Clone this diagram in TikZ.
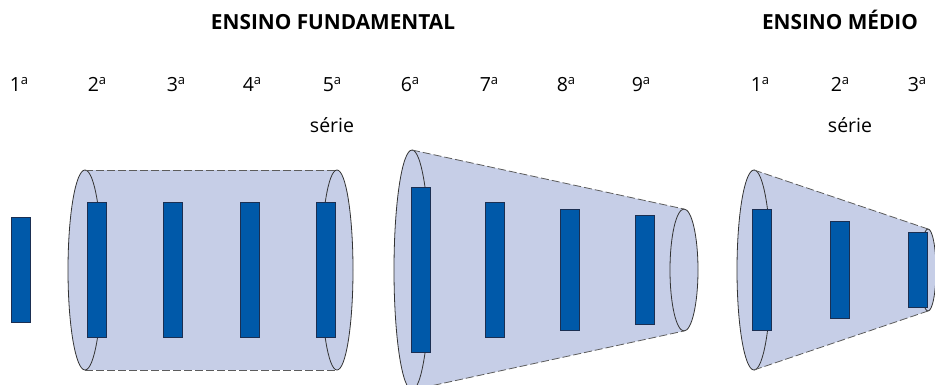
\documentclass[tikz,border=0pt]{standalone}
\usepackage{fontspec}
\setmainfont{Open Sans}
\usepackage{tikz}
\usetikzlibrary{positioning}

\definecolor{tubefill}{HTML}{C6CEE7}
\definecolor{barblue}{HTML}{0059A9}
\definecolor{barline}{HTML}{1B2F52}
\definecolor{rim}{HTML}{333333}

% ordinal mark: small raised a
\newcommand{\ordA}{\raisebox{7pt}{\fontsize{13}{13}\selectfont a}}

\tikzset{
  rimline/.style={draw=rim,line width=0.8pt},
  sideline/.style={draw=rim!80,line width=0.8pt,dash pattern=on 8pt off 3pt},
  bar/.style={draw=barline,fill=barblue,line width=0.7pt,minimum width=19pt,inner sep=0pt},
  grade/.style={anchor=base,font=\fontsize{19.5}{22}\selectfont},
  heading/.style={anchor=base,font=\fontsize{20.8}{24}\selectfont\bfseries}
}

\begin{document}
\begin{tikzpicture}[x=1pt,y=-1pt]
   \useasboundingbox (0,0) rectangle (935,384);

   % headings
   \node[heading] (fund) at (333,29) {ENSINO FUNDAMENTAL};
   \node[heading] (medio) at (840,29) {ENSINO MÉDIO};

   % tubes: left rim (x, ry, rx), right rim (x, ry, rx)
   \foreach \lx/\lry/\lrx/\rx/\rry/\rrx/\t in {85/100/17/337/100/16/a,
                                               412/120/18/684/61/14/b,
                                               754/100/17/928/41/8/c}{
     \coordinate (\t lt) at (\lx,270-\lry);
     \coordinate (\t lb) at (\lx,270+\lry);
     \coordinate (\t rt) at (\rx,270-\rry);
     \coordinate (\t rb) at (\rx,270+\rry);
     \fill[tubefill] (\t lt) -- (\t rt) -- (\t rb) -- (\t lb) -- cycle;
     \fill[tubefill] (\lx,270) ellipse [x radius=\lrx pt,y radius=\lry pt];
     \fill[tubefill] (\rx,270) ellipse [x radius=\rrx pt,y radius=\rry pt];
     \draw[rimline] (\lx,270) ellipse [x radius=\lrx pt,y radius=\lry pt];
     \draw[rimline] (\rx,270) ellipse [x radius=\rrx pt,y radius=\rry pt];
     \draw[sideline] (\t lt) -- (\t rt);
     \draw[sideline] (\t lb) -- (\t rb);
   }

   % bars, one per grade
   \foreach \x/\h/\n in {20.5/105/f1, 96.5/135/f2, 172.5/135/f3, 249.5/135/f4,
                         325.5/135/f5, 420.5/165/f6, 494.5/135/f7, 569.5/121/f8,
                         644.5/109/f9, 761.5/121/m1, 839.5/97/m2, 917.5/75/m3}
     \node[bar,minimum height=\h pt] (\n) at (\x,269.5) {};

   % grade labels
   \foreach \x/\s/\n in {19/1/f1, 97/2/f2, 176/3/f3, 252/4/f4, 332/5/f5,
                         410/6/f6, 489/7/f7, 566/8/f8, 641/9/f9,
                         760/1/m1, 840/2/m2, 917/3/m3}
     \node[grade] (l\n) at (\x,91) {\s\ordA};

   \node[grade] (seriea) at (332,132) {série};
   \node[grade] (serieb) at (850,132) {série};
\end{tikzpicture}
\end{document}
